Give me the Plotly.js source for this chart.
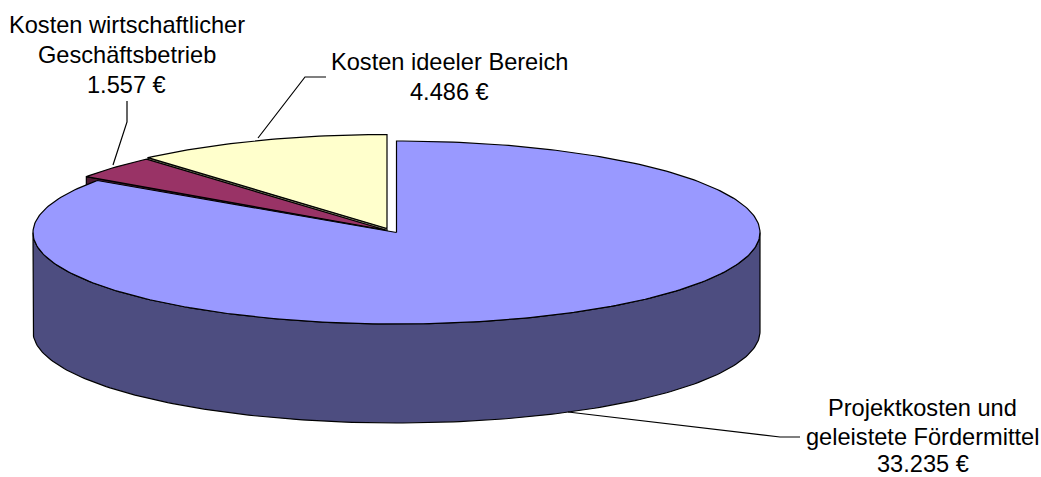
<!DOCTYPE html>
<html>
<head>
<meta charset="utf-8">
<script src="https://cdn.plot.ly/plotly-3.0.1.min.js"></script>
<style>html,body{margin:0;padding:0;background:#fff}#chart{width:1041px;height:477px}</style>
</head>
<body>
<div id="chart"></div>
<script>
// Data
const categories = ["Projektkosten und geleistete Fördermittel", "Kosten wirtschaftlicher Geschäftsbetrieb", "Kosten ideeler Bereich"];
const values = [33235, 1557, 4486];
const valueLabels = ["33.235 €", "1.557 €", "4.486 €"];

// Label lines per slice
const labelLines = [
  ["Projektkosten und", "geleistete Fördermittel", valueLabels[0]],
  ["Kosten wirtschaftlicher", "Geschäftsbetrieb", valueLabels[1]],
  ["Kosten ideeler Bereich", valueLabels[2]]
];

// Styling and layout of the drawing (axes are mapped 1:1 on the page)
const W = 1041, H = 477;
const topColors = ["#9999FF", "#993366", "#FFFFCC"];
const sideColors = ["#4D4D80", "#4D1A33", "#808066"];
const centers = [[396.5, 232.5], [385.5, 230], [387, 228.5]];
const RX = 363.5, DEPTH = 99;
const sliceRY = [91.5, 94, 94];
const labelPos = [
  [[922.5, 408], [922.5, 437], [922.5, 463.5]],
  [[126.5, 25], [126.5, 55], [126.5, 85]],
  [[449, 62], [449, 92]]
];
const leaders = [
  [[568, 412], [780, 437], [800, 437]],
  [[113, 165], [127, 122], [127, 101]],
  [[258, 138], [305, 77], [326, 77]]
];

// Pie geometry: clockwise degrees from 12 o'clock, from the values
const total = values.reduce((a, b) => a + b, 0);
let acc = 0;
const spans = values.map(v => { const s = acc; acc += v / total * 360; return [s, acc]; });

function pt(i, deg, dy) {
  const a = deg * Math.PI / 180;
  return [centers[i][0] + RX * Math.sin(a), centers[i][1] - sliceRY[i] * Math.cos(a) + (dy || 0)];
}
function arc(i, from, to, dy) {
  const out = [], n = Math.max(2, Math.ceil(Math.abs(to - from)));
  for (let k = 0; k <= n; k++) out.push(pt(i, from + (to - from) * k / n, dy));
  return out;
}
function poly(points, fill, name) {
  const pts = points.concat([points[0]]);
  return {
    type: "scatter", mode: "lines", name: name,
    x: pts.map(p => p[0]), y: pts.map(p => p[1]),
    fill: "toself", fillcolor: fill,
    line: { color: "#000", width: 1.2 },
    hoverinfo: "name", showlegend: false
  };
}
function topFace(i) {
  return poly([centers[i]].concat(arc(i, spans[i][0], spans[i][1])), topColors[i], categories[i]);
}
function cutFace(i, deg) {
  const c = centers[i], e = pt(i, deg);
  return poly([c, e, [e[0], e[1] + DEPTH], [c[0], c[1] + DEPTH]], sideColors[i], categories[i]);
}

const traces = [];
// back to front: yellow, purple, blue
traces.push(cutFace(2, spans[2][0]));
traces.push(topFace(2));
traces.push(cutFace(1, spans[1][0]));
traces.push(topFace(1));
// blue outer wall (front half)
const wallTop = arc(0, 90, 270);
const wallBottom = arc(0, 270, 90, DEPTH);
traces.push(poly(wallTop.concat(wallBottom), sideColors[0], categories[0]));
traces.push(topFace(0));

leaders.forEach(l => traces.push({
  type: "scatter", mode: "lines", x: l.map(p => p[0]), y: l.map(p => p[1]),
  line: { color: "#000", width: 1.2 }, hoverinfo: "skip", showlegend: false
}));

const annotations = [];
labelLines.forEach((lines, i) => lines.forEach((t, j) => annotations.push({
  x: labelPos[i][j][0], y: labelPos[i][j][1], xref: "x", yref: "y",
  text: t, showarrow: false, xanchor: "center", yanchor: "middle",
  font: { family: "Liberation Sans, Arial, sans-serif", size: 23.6, color: "#000" }
})));

const hidden = { visible: false, fixedrange: true };
Plotly.newPlot("chart", traces, {
  width: W, height: H,
  margin: { l: 0, r: 0, t: 0, b: 0 },
  paper_bgcolor: "#fff", plot_bgcolor: "#fff",
  xaxis: Object.assign({ range: [0, W] }, hidden),
  yaxis: Object.assign({ range: [H, 0] }, hidden),
  annotations: annotations,
  showlegend: false
}, { displayModeBar: false, staticPlot: true });
</script>
</body>
</html>
